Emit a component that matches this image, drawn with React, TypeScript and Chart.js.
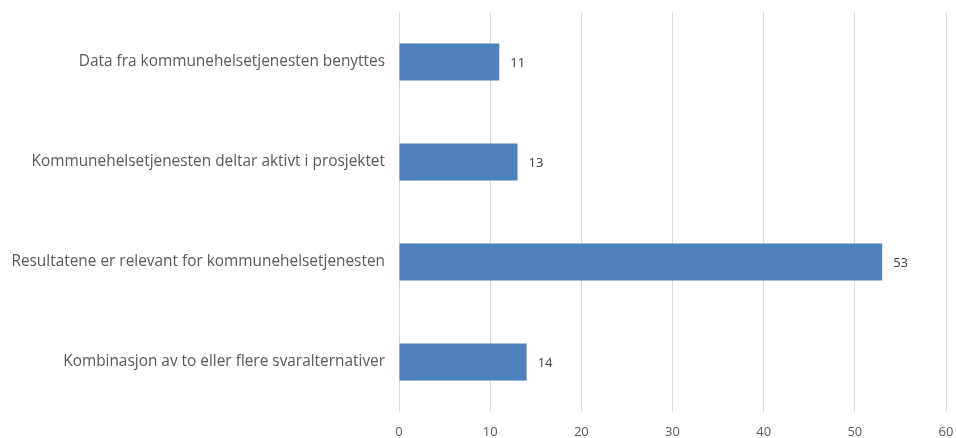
import React, { useEffect, useRef } from "react";
import { Chart, registerables } from "chart.js";

Chart.register(...registerables);

const categories = [
  "Data fra kommunehelsetjenesten benyttes",
  "Kommunehelsetjenesten deltar aktivt i prosjektet",
  "Resultatene er relevant for kommunehelsetjenesten",
  "Kombinasjon av to eller flere svaralternativer",
];
const values = [11, 13, 53, 14];
const xTicks = [0, 10, 20, 30, 40, 50, 60];

const FONT = "'Open Sans', 'Liberation Sans', sans-serif";

const valueLabels = {
  id: "valueLabels",
  afterDatasetsDraw(chart: any) {
    const { ctx } = chart;
    const meta = chart.getDatasetMeta(0);
    ctx.save();
    ctx.fillStyle = "#404040";
    ctx.font = `13px ${FONT}`;
    ctx.textAlign = "left";
    ctx.textBaseline = "middle";
    meta.data.forEach((bar: any, i: number) => {
      ctx.fillText(String(values[i]), bar.x + 11, bar.y + 1);
    });
    ctx.restore();
  },
};

export default function App() {
  const ref = useRef<HTMLCanvasElement | null>(null);
  useEffect(() => {
    document.body.style.margin = "0";
    const chart = new Chart(ref.current as HTMLCanvasElement, {
      type: "bar",
      data: {
        labels: categories,
        datasets: [
          {
            data: values,
            backgroundColor: "#4f81bd",
            borderWidth: 0,
            barPercentage: 0.37,
            categoryPercentage: 1,
          },
        ],
      },
      options: {
        indexAxis: "y",
        animation: false,
        responsive: false,
        maintainAspectRatio: false,
        layout: { padding: { top: 12, right: 10, left: 0, bottom: 0 } },
        plugins: { legend: { display: false }, tooltip: { enabled: false } },
        scales: {
          x: {
            min: 0,
            max: 60,
            afterBuildTicks: (s: any) => {
              s.ticks = xTicks.map((v) => ({ value: v }));
            },
            grid: { color: "#d9d9d9", drawTicks: false, lineWidth: 1 },
            border: { display: false },
            ticks: {
              color: "#595959",
              font: { family: FONT, size: 13 },
              padding: 12,
              maxRotation: 0,
            },
            afterFit: (s: any) => {
              s.height = 26;
              s.paddingLeft = 0;
              s.paddingRight = 0;
            },
          },
          y: {
            grid: { display: false, drawTicks: false },
            border: { display: false },
            ticks: {
              color: "#595959",
              font: { family: FONT, size: 15.4 },
              padding: 14,
            },
            afterFit: (s: any) => {
              s.width = 399;
              s.paddingTop = 0;
              s.paddingBottom = 0;
            },
          },
        },
      },
      plugins: [valueLabels],
    });
    return () => chart.destroy();
  }, []);
  return (
    <div style={{ width: 956, height: 438 }}>
      <canvas ref={ref} width={956} height={438} style={{ display: "block" }} />
    </div>
  );
}
